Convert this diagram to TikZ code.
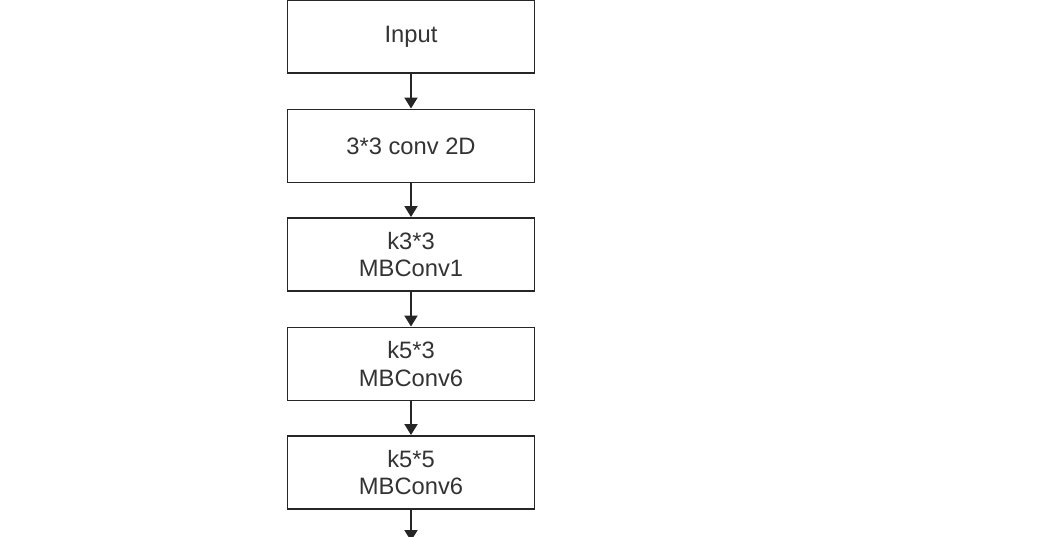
\documentclass[tikz,border=0pt]{standalone}
\usepackage{fontspec}
\setmainfont{Liberation Sans}
\usepackage{xcolor}
\usepackage{tikz}
\usetikzlibrary{arrows.meta,positioning}

\begin{document}
\begin{tikzpicture}[
  font=\fontsize{13.5}{15.5}\selectfont,
  layer/.style={draw=black!85, line width=1.1pt, align=center, text=black!80, minimum width=4.94cm, minimum height=1.46cm, inner sep=2pt},
  >={Triangle[length=0.22cm, width=0.26cm]},
]
\useasboundingbox (0,0) rectangle (20.92,-10.74);

\node[layer] (inp) at (8.22,-0.73) {Input};
\node[layer] (stem) at (8.22,-2.92) {3*3 conv 2D};
\node[layer] (mb1) at (8.22,-5.09) {k3*3\\ MBConv1};
\node[layer] (mb2) at (8.22,-7.28) {k5*3\\ MBConv6};
\node[layer] (mb3) at (8.22,-9.45) {k5*5\\ MBConv6};
\coordinate (out) at (8.22,-10.82);

\foreach \a/\b in {inp/stem,stem/mb1,mb1/mb2,mb2/mb3,mb3/out}
  \draw[->, line width=1.1pt, draw=black!85, fill=black!85] (\a.south) -- (\b);
\end{tikzpicture}
\end{document}
